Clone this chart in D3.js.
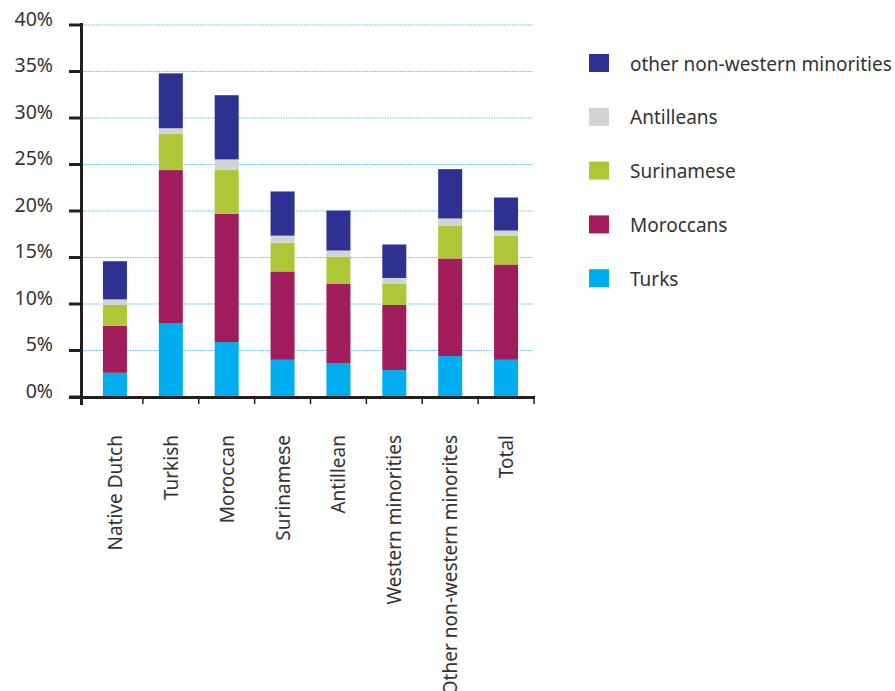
<!DOCTYPE html>
<html>
<head>
<meta charset="utf-8">
<script src="https://cdn.jsdelivr.net/npm/d3@7"></script>
<style>
  body { margin: 0; background: #fff; }
  text { font-family: "Noto Sans", sans-serif; fill: #333; }
</style>
</head>
<body>
<div id="chart"></div>
<script>
// categories along the x axis
const groups = ['Native Dutch', 'Turkish', 'Moroccan', 'Surinamese', 'Antillean',
  'Western minorities', 'Other non-western minorites', 'Total']

// share (%) per minority, stacked bottom to top
const turks     = [2.6, 7.9, 5.9, 4.0, 3.65, 2.9, 4.4, 4.0]
const moroccans = [5.05, 16.5, 13.8, 9.5, 8.55, 7.0, 10.5, 10.25]
const surinamese = [2.25, 3.9, 4.7, 3.1, 2.9, 2.3, 3.55, 3.1]
const antilleans = [0.6, 0.6, 1.15, 0.75, 0.65, 0.6, 0.75, 0.55]
const otherNonWestern = [4.1, 5.9, 6.9, 4.75, 4.3, 3.6, 5.3, 3.55]

const yTicks = [0, 5, 10, 15, 20, 25, 30, 35, 40]

const series = [
  { key: 'Turks', values: turks, color: '#00aeef' },
  { key: 'Moroccans', values: moroccans, color: '#a01c5a' },
  { key: 'Surinamese', values: surinamese, color: '#afc637' },
  { key: 'Antilleans', values: antilleans, color: '#d2d3d5' },
  { key: 'other non-western minorities', values: otherNonWestern, color: '#2e3192' }
]

const width = 895, height = 691

const rows = groups.map((g, i) => {
  const r = { group: g }
  series.forEach(s => r[s.key] = s.values[i])
  return r
})

const stack = d3.stack().keys(series.map(s => s.key))(rows)

const x = d3.scaleBand()
  .domain(groups)
  .range([87, 534])

const y = d3.scaleLinear()
  .domain([0, 40])
  .range([397, 25])

const svg = d3.select('#chart')
  .append('svg')
  .attr('width', width)
  .attr('height', height)

// dotted gridlines
svg.append('g')
  .selectAll('line')
  .data(yTicks.filter(t => t > 0))
  .enter().append('line')
  .attr('x1', 83)
  .attr('x2', 533)
  .attr('y1', d => y(d))
  .attr('y2', d => y(d))
  .attr('stroke', '#62c6ee')
  .attr('stroke-width', 1.2)
  .attr('stroke-dasharray', '1.6,1')

// bars
const barW = 24
svg.append('g')
  .selectAll('g')
  .data(stack)
  .enter().append('g')
  .attr('fill', (d, i) => series[i].color)
  .selectAll('rect')
  .data(d => d)
  .enter().append('rect')
  .attr('x', d => x(d.data.group) + x.bandwidth() / 2 - barW / 2)
  .attr('width', barW)
  .attr('y', d => y(d[1]))
  .attr('height', d => y(d[0]) - y(d[1]))

// y axis
const yAxis = svg.append('g')
yAxis.append('line')
  .attr('x1', 81.5).attr('x2', 81.5)
  .attr('y1', 23).attr('y2', 405)
  .attr('stroke', '#231f20').attr('stroke-width', 3)

yAxis.selectAll('.tick')
  .data(yTicks)
  .enter().append('line')
  .attr('x1', 69).attr('x2', 81)
  .attr('y1', d => y(d)).attr('y2', d => y(d))
  .attr('stroke', '#231f20').attr('stroke-width', 3)

yAxis.selectAll('text')
  .data(yTicks)
  .enter().append('text')
  .attr('x', 53)
  .attr('y', d => y(d) - 6)
  .attr('dy', '0.35em')
  .attr('text-anchor', 'end')
  .style('font-size', '19.5px')
  .text(d => d + '%')

// x axis
const xAxis = svg.append('g')
xAxis.append('line')
  .attr('x1', 69).attr('x2', 535)
  .attr('y1', 397.5).attr('y2', 397.5)
  .attr('stroke', '#231f20').attr('stroke-width', 3)

xAxis.selectAll('.tick')
  .data(groups)
  .enter().append('line')
  .attr('x1', d => x(d) + x.step())
  .attr('x2', d => x(d) + x.step())
  .attr('y1', 397).attr('y2', 404)
  .attr('stroke', '#231f20').attr('stroke-width', 1.5)

xAxis.selectAll('text')
  .data(groups)
  .enter().append('text')
  .attr('transform', d => `translate(${x(d) + x.bandwidth() / 2 + 7},435) rotate(-90)`)
  .attr('text-anchor', 'end')
  .style('font-size', '19px')
  .text(d => d)

// legend
const legend = svg.append('g')
  .selectAll('g')
  .data(series.slice().reverse())
  .enter().append('g')
  .attr('transform', (d, i) => `translate(589,${54 + i * 53.8})`)

legend.append('rect')
  .attr('width', 20)
  .attr('height', 18)
  .attr('fill', d => d.color)

legend.append('text')
  .attr('x', 41)
  .attr('y', 10)
  .attr('dy', '0.35em')
  .style('font-size', '19px')
  .text(d => d.key)
</script>
</body>
</html>
